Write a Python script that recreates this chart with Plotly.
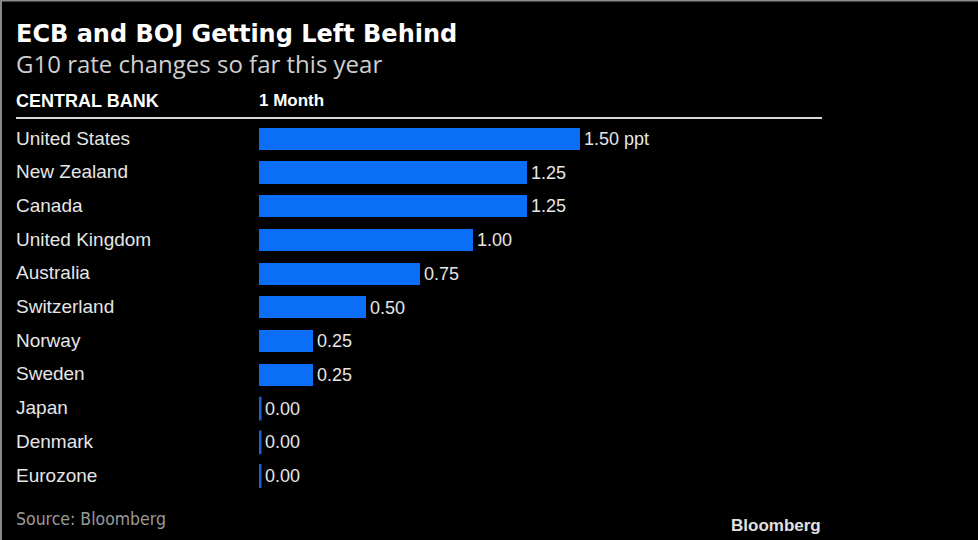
import plotly.graph_objects as go

banks = ["United States", "New Zealand", "Canada", "United Kingdom", "Australia",
         "Switzerland", "Norway", "Sweden", "Japan", "Denmark", "Eurozone"]
changes = [1.50, 1.25, 1.25, 1.00, 0.75, 0.50, 0.25, 0.25, 0.00, 0.00, 0.00]
value_labels = ["1.50 ppt", "1.25", "1.25", "1.00", "0.75", "0.50", "0.25", "0.25",
                "0.00", "0.00", "0.00"]

W, H = 978, 540
BLUE = "#0b6ef7"
TXT = "#e6e6e6"

fig = go.Figure()
fig.add_trace(go.Bar(
    x=changes, y=banks, orientation="h",
    marker=dict(color=BLUE, line=dict(width=0)),
    width=0.66, hoverinfo="skip",
))
# thin stubs for zero values
zero_banks = [b for b, v in zip(banks, changes) if v == 0]
fig.add_trace(go.Scatter(
    x=[0] * len(zero_banks), y=zero_banks, mode="markers",
    marker=dict(symbol="line-ns", size=17, line=dict(color="#1f5fd0", width=5)),
    hoverinfo="skip",
))

ann = []
for b, v, t in zip(banks, changes, value_labels):
    ann.append(dict(x=v, y=b, xref="x", yref="y", text=t, showarrow=False,
                    xanchor="left", xshift=2 if v > 0 else 4,
                    font=dict(family="Liberation Sans", size=18, color=TXT)))
    ann.append(dict(x=14 / W, y=b, xref="paper", yref="y", text=b, showarrow=False,
                    xanchor="left", yshift=1,
                    font=dict(family="Liberation Sans", size=19, color=TXT)))

def px_y(y):
    return 1 - y / H

ann += [
    dict(x=14 / W, y=px_y(34), xref="paper", yref="paper", text="<b>ECB and BOJ Getting Left Behind</b>",
         showarrow=False, xanchor="left", yanchor="middle",
         font=dict(family="DejaVu Sans", size=24, color="#ffffff")),
    dict(x=14 / W, y=px_y(63), xref="paper", yref="paper", text="G10 rate changes so far this year",
         showarrow=False, xanchor="left", yanchor="middle",
         font=dict(family="Open Sans", size=24, color="#cfcfcf")),
    dict(x=14 / W, y=px_y(101), xref="paper", yref="paper", text="<b>CENTRAL BANK</b>",
         showarrow=False, xanchor="left", yanchor="middle",
         font=dict(family="Liberation Sans", size=18, color="#ffffff")),
    dict(x=257 / W, y=px_y(101), xref="paper", yref="paper", text="<b>1 Month</b>",
         showarrow=False, xanchor="left", yanchor="middle",
         font=dict(family="Liberation Sans", size=17, color="#ffffff")),
    dict(x=14 / W, y=px_y(519), xref="paper", yref="paper", text="Source: Bloomberg",
         showarrow=False, xanchor="left", yanchor="middle",
         font=dict(family="DejaVu Sans Condensed", size=17.5, color="#9a9a9a")),
    dict(x=823 / W, y=px_y(525), xref="paper", yref="paper", text="<b>Bloomberg</b>",
         showarrow=False, xanchor="right", yanchor="middle",
         font=dict(family="Liberation Sans", size=17, color="#e0e0e0")),
]

shapes = [
    dict(type="line", xref="paper", yref="paper", x0=16 / W, x1=822 / W,
         y0=px_y(118), y1=px_y(118), line=dict(color="#d8d8d8", width=2)),
    dict(type="line", xref="paper", yref="paper", x0=0.001, x1=0.001, y0=0, y1=1,
         line=dict(color="#8a8a8a", width=2)),
    dict(type="line", xref="paper", yref="paper", x0=0, x1=1, y0=0.999, y1=0.999,
         line=dict(color="#8a8a8a", width=2)),
]

x0_px, x1_px = 259, 822
px_per_unit = (580 - 259) / 1.5
top_px, bot_px = 139 - 16.85, 476 + 16.85
n = len(banks)

fig.update_layout(
    width=W, height=H, margin=dict(l=0, r=0, t=0, b=0),
    paper_bgcolor="#000000", plot_bgcolor="#000000",
    showlegend=False, bargap=0,
    xaxis=dict(domain=[x0_px / W, x1_px / W], range=[0, (x1_px - x0_px) / px_per_unit],
               visible=False, fixedrange=True),
    yaxis=dict(domain=[1 - bot_px / H, 1 - top_px / H], range=[n - 0.5, -0.5],
               visible=False, categoryorder="array", categoryarray=banks, fixedrange=True),
    annotations=ann, shapes=shapes,
)

fig.write_html("out.html", config={"displayModeBar": False},
               post_script="document.body.style.margin='0';document.body.style.overflow='hidden';")
